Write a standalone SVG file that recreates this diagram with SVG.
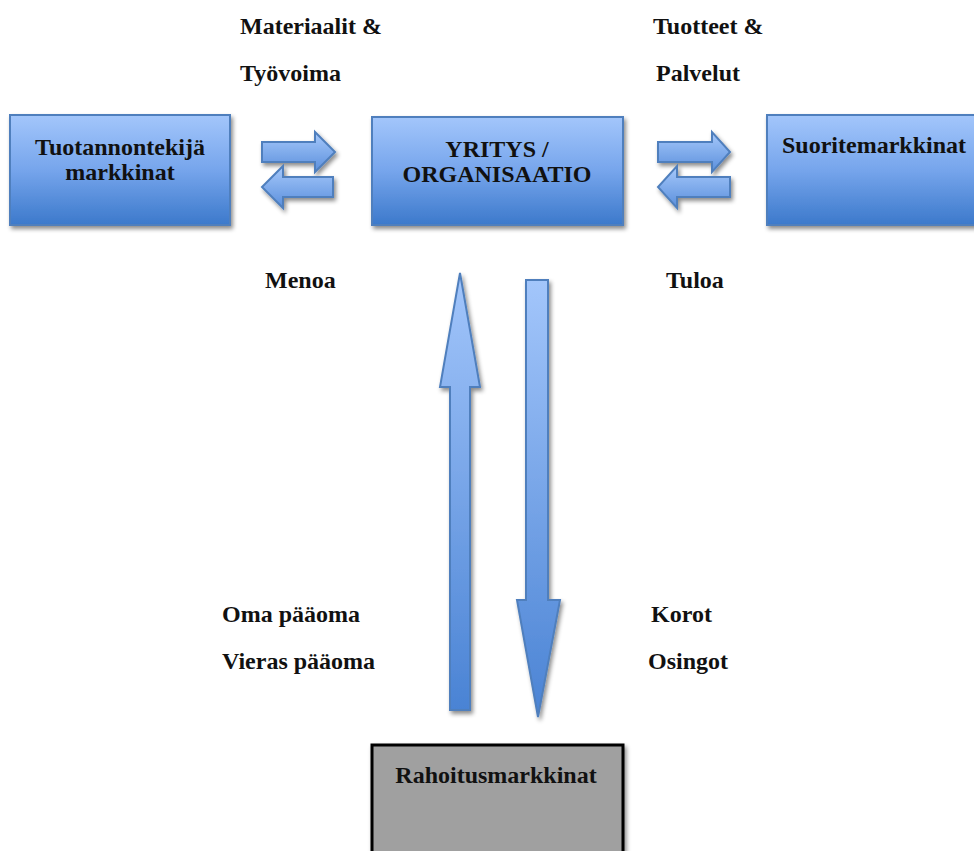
<svg xmlns="http://www.w3.org/2000/svg" width="974" height="851" viewBox="0 0 974 851">
<defs>
<linearGradient id="gBox" x1="0" y1="0" x2="0" y2="1">
<stop offset="0" stop-color="#a3c6fb"/>
<stop offset="0.5" stop-color="#76a5ec"/>
<stop offset="1" stop-color="#3c79cb"/>
</linearGradient>
<linearGradient id="gArrH" x1="0" y1="0" x2="0" y2="1">
<stop offset="0" stop-color="#a7c9fb"/>
<stop offset="1" stop-color="#5a8fdc"/>
</linearGradient>
<linearGradient id="gUp" x1="0" y1="0" x2="0" y2="1">
<stop offset="0" stop-color="#a3c6fb"/>
<stop offset="1" stop-color="#4a83d4"/>
</linearGradient>
<filter id="sh" x="-20%" y="-20%" width="140%" height="140%">
<feDropShadow dx="2" dy="3" stdDeviation="2" flood-color="#000" flood-opacity="0.45"/>
</filter>
</defs>
<style>
.box{fill:url(#gBox);stroke:#4f7fbd;stroke-width:2;filter:url(#sh)}
.arrH{fill:url(#gArrH);stroke:#4f7fbd;stroke-width:2;filter:url(#sh)}
.arrV{fill:url(#gUp);stroke:#4f7fbd;stroke-width:2;filter:url(#sh)}
.gray{fill:#a0a0a0;stroke:#000;stroke-width:3;filter:url(#sh)}
text{font-family:"Liberation Serif","Times New Roman",serif;font-weight:bold;font-size:24px;fill:#111}
.c{text-anchor:middle}
</style>
<rect width="974" height="851" fill="#fff"/>
<g id="connectors">
<polygon class="arrH" points="262,142 315,142 315,132 335,152 315,172 315,162 262,162"/>
<polygon class="arrH" points="333,177 283,177 283,166 262,187 283,208 283,197 333,197"/>
<polygon class="arrH" points="658,142 712,142 712,132 730,152 712,172 712,162 658,162"/>
<polygon class="arrH" points="730,177 677,177 677,166 658,187 677,208 677,197 730,197"/>
<polygon class="arrV" points="460,273 480,387 470,387 470,710 450,710 450,387 440,387"/>
<polygon class="arrV" points="526,280 548,280 548,600 560,600 538,717 517,600 526,600"/>
</g>
<g id="tuotannontekija">
<rect class="box" x="10" y="115" width="220" height="110"/>
<text class="c" x="120" y="155">Tuotannontekijä</text>
<text class="c" x="120" y="180">markkinat</text>
</g>
<g id="yritys">
<rect class="box" x="372" y="117" width="251" height="108"/>
<text class="c" x="497" y="157">YRITYS /</text>
<text class="c" x="497" y="182">ORGANISAATIO</text>
</g>
<g id="suoritemarkkinat">
<rect class="box" x="767" y="115" width="215" height="110"/>
<text class="c" x="874" y="153">Suoritemarkkinat</text>
</g>
<g id="rahoitusmarkkinat">
<rect class="gray" x="372" y="745" width="251" height="120"/>
<text class="c" x="496" y="783">Rahoitusmarkkinat</text>
</g>
<g id="labels">
<text x="240" y="34">Materiaalit &amp;</text>
<text x="240" y="81">Työvoima</text>
<text x="653" y="34">Tuotteet &amp;</text>
<text x="656" y="81">Palvelut</text>
<text x="265" y="288">Menoa</text>
<text x="666" y="288">Tuloa</text>
<text x="222" y="622">Oma pääoma</text>
<text x="222" y="669">Vieras pääoma</text>
<text x="651" y="622">Korot</text>
<text x="648" y="669">Osingot</text>
</g>
</svg>
